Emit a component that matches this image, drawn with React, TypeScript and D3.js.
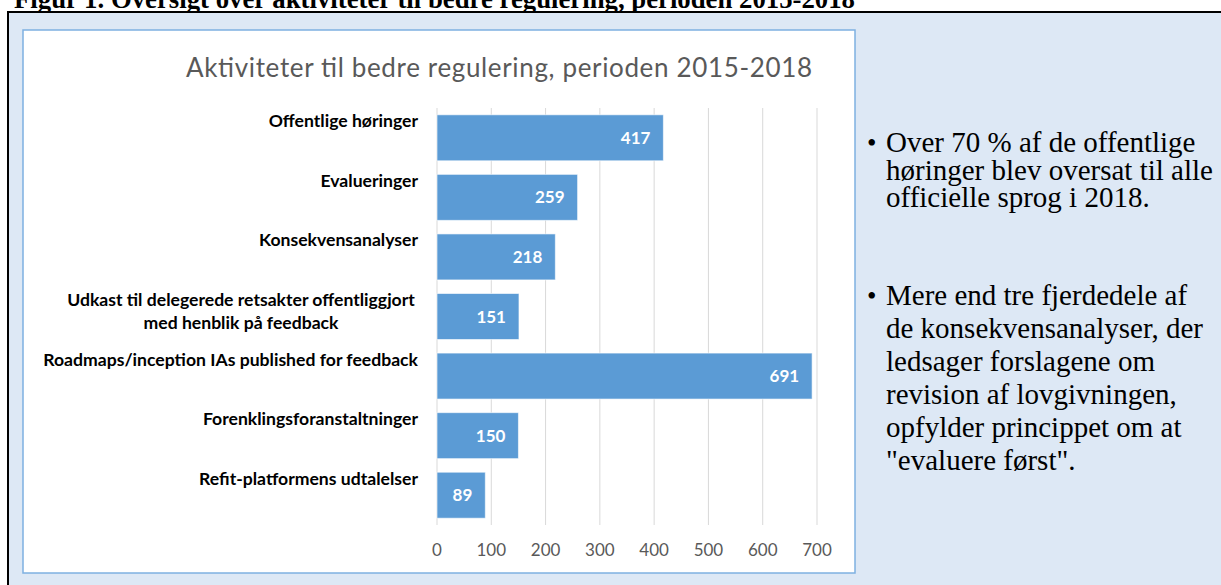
import React from "react";
import * as d3 from "d3";

const categories = [
  "Offentlige høringer",
  "Evalueringer",
  "Konsekvensanalyser",
  "Udkast til delegerede retsakter offentliggjort|med henblik på feedback",
  "Roadmaps/inception IAs published for feedback",
  "Forenklingsforanstaltninger",
  "Refit-platformens udtalelser",
];
const values = [417, 259, 218, 151, 691, 150, 89];
const tickValues = [0, 100, 200, 300, 400, 500, 600, 700];

const figTitle = "Figur 1. Oversigt over aktiviteter til bedre regulering, perioden 2015-2018";
const chartTitle = "Aktiviteter til bedre regulering, perioden 2015-2018";
const bullet1 = ["Over 70 % af de offentlige", "høringer blev oversat til alle", "officielle sprog i 2018."];
const bullet2 = [
  "Mere end tre fjerdedele af",
  "de konsekvensanalyser, der",
  "ledsager forslagene om",
  "revision af lovgivningen,",
  "opfylder princippet om at",
  "\"evaluere først\".",
];

const W = 1221;
const H = 585;

export default function App() {
  const x = d3.scaleLinear().domain([0, 700]).range([437, 817]);
  const y = d3
    .scaleBand<string>()
    .domain(categories)
    .range([108, 525])
    .paddingInner(0.228)
    .paddingOuter(0.114);
  const chartFont = "Lato, 'Open Sans', sans-serif";
  const serif = "'Liberation Serif', 'Times New Roman', serif";
  const catSize = 17.6;

  return (
    <svg
      width={W}
      height={H}
      style={{ position: "absolute", left: 0, top: 0, display: "block" }}
    >
      <rect x={0} y={0} width={W} height={H} fill="#ffffff" />
      <text
        x={14}
        y={8}
        fontFamily={serif}
        fontWeight="bold"
        fontSize={26.7}
        textLength={841}
        lengthAdjust="spacingAndGlyphs"
        fill="#000"
      >
        {figTitle}
      </text>
      <rect x={9} y={13} width={W - 9} height={H - 13} fill="#dde8f5" />
      <line x1={8} x2={W} y1={12} y2={12} stroke="#000" strokeWidth={2} />
      <line x1={8} x2={8} y1={11} y2={H} stroke="#000" strokeWidth={2} />

      <rect x={23} y={30} width={832} height={543} fill="#fff" stroke="#7eb0e1" strokeWidth={1.5} />

      <text
        x={499}
        y={77}
        textAnchor="middle"
        fontFamily={chartFont}
        fontSize={26}
        fill="#595959"
        textLength={626}
        lengthAdjust="spacing"
      >
        {chartTitle}
      </text>

      {tickValues.map((t) => (
        <line
          key={"g" + t}
          x1={x(t)}
          x2={x(t)}
          y1={108}
          y2={525}
          stroke="#d9d9d9"
          strokeWidth={1}
        />
      ))}
      {tickValues.map((t) => (
        <text
          key={"t" + t}
          x={x(t)}
          y={556}
          textAnchor="middle"
          fontFamily={chartFont}
          fontSize={17}
          fill="#595959"
        >
          {t}
        </text>
      ))}

      {categories.map((c, i) => {
        const y0 = y(c)!;
        const bw = y.bandwidth();
        const cy = y0 + bw / 2;
        const lines = c.split("|");
        return (
          <g key={c}>
            <rect
              x={x(0)}
              y={y0}
              width={x(values[i]) - x(0)}
              height={bw}
              fill="#5b9bd5"
              stroke="#ffffff"
              strokeOpacity={0.6}
              strokeWidth={1}
            />
            <text
              x={x(values[i]) - 13}
              y={cy + 6}
              textAnchor="end"
              fontFamily={chartFont}
              fontWeight="bold"
              fontSize={17}
              fill="#fff"
            >
              {values[i]}
            </text>
            {lines.length === 1 ? (
              <text
                x={418}
                y={cy - 10.5}
                textAnchor="end"
                fontFamily={chartFont}
                fontWeight="bold"
                fontSize={catSize}
                fill="#000"
              >
                {c}
              </text>
            ) : (
              <text
                x={241}
                y={cy - 10.5}
                textAnchor="middle"
                fontFamily={chartFont}
                fontWeight="bold"
                fontSize={catSize}
                fill="#000"
              >
                {lines.map((l, k) => (
                  <tspan key={k} x={241} dy={k === 0 ? 0 : 23}>
                    {l}
                  </tspan>
                ))}
              </text>
            )}
          </g>
        );
      })}

      <g fontFamily={serif} fontSize={29} fill="#000">
        <text x={867} y={152} fontSize={27}>•</text>
        {bullet1.map((l, k) => (
          <text key={"a" + k} x={886} y={152 + k * 27.5}>
            {l}
          </text>
        ))}
        <text x={867} y={305} fontSize={27}>•</text>
        {bullet2.map((l, k) => (
          <text key={"b" + k} x={886} y={305 + k * 33}>
            {l}
          </text>
        ))}
      </g>
    </svg>
  );
}
